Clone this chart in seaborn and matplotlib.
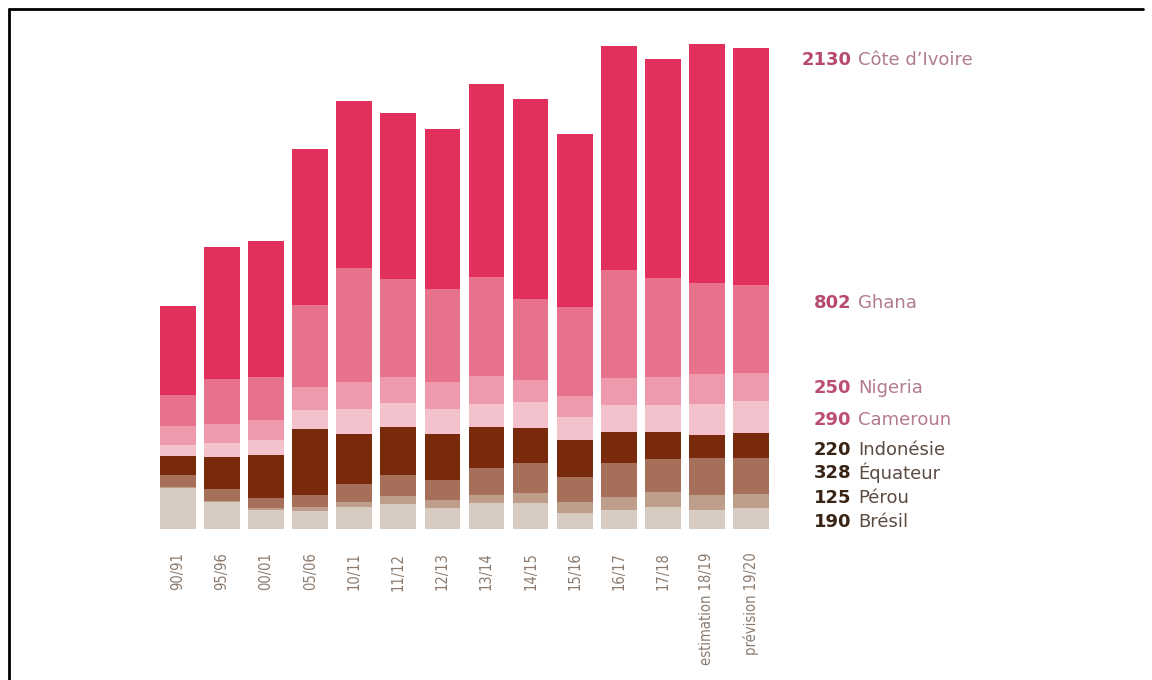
import numpy as np
import pandas as pd
import matplotlib
matplotlib.use("Agg")
import matplotlib.pyplot as plt
from matplotlib.lines import Line2D
import seaborn as sns

# ---------------- data ----------------
seasons = ['90/91', '95/96', '00/01', '05/06', '10/11', '11/12', '12/13', '13/14',
           '14/15', '15/16', '16/17', '17/18', 'estimation 18/19', 'prévision 19/20']
civ       = [800, 1190, 1220, 1407, 1506, 1497, 1440, 1734, 1806, 1561, 2016, 1971, 2151, 2130]
ghana     = [285,  405,  390,  744, 1030,  879,  840,  897,  729,  801,  975,  895,  825,  802]
nigeria   = [165,  165,  180,  210,  240,  240,  240,  248,  195,  189,  249,  255,  264,  250]
cameroun  = [105,  135,  135,  165,  225,  210,  225,  211,  240,  210,  240,  240,  285,  290]
indonesie = [165,  285,  390,  600,  450,  435,  420,  374,  315,  330,  284,  240,  210,  220]
equateur  = [110,  105,   90,  105,  165,  190,  180,  240,  270,  225,  300,  300,  330,  328]
perou     = [ 10,   10,   20,   40,   45,   72,   75,   75,   85,  105,  120,  135,  135,  125]
bresil    = [370,  245,  170,  160,  200,  225,  186,  231,  237,  141,  171,  200,  171,  190]

countries = ["Côte d’Ivoire", "Ghana", "Nigeria", "Cameroun",
             "Indonésie", "Équateur", "Pérou", "Brésil"]
series = [civ, ghana, nigeria, cameroun, indonesie, equateur, perou, bresil]
label_values = ["2130", "802", "250", "290", "220", "328", "125", "190"]

# ---------------- styling ----------------
seg_colors = ["#E0305B", "#E8718C", "#EE9AAC", "#F4C2CD",
              "#7A2A0C", "#A56F5A", "#BE9D8B", "#D8CBC1"]
num_colors = ["#B5496F", "#B5496F", "#BC4E76", "#BC4E76",
              "#3A2416", "#3A2416", "#3A2416", "#3A2416"]
name_colors = ["#B07B8E", "#B07B8E", "#B57A90", "#B57A90",
               "#5A4A42", "#5A4A42", "#5A4A42", "#5A4A42"]
label_y = [4230, 2041, 1272, 983, 713, 505, 280, 66]   # layout positions of the side labels

sns.set_style("white")
plt.rcParams['font.family'] = ['DejaVu Sans']

fig = plt.figure(figsize=(11.52, 6.8), dpi=100)
ax = fig.add_axes([0.1353, 0.2221, 0.5358, 0.7173])

# stacked bars: bottom-up order Brésil ... Côte d'Ivoire
df = pd.DataFrame({c: s for c, s in zip(countries, series)}, index=seasons)
stack_order = countries[::-1]            # bottom to top
cum = df[stack_order].cumsum(axis=1)

# draw from the tallest cumulative (top segment) down to the smallest
for country in countries:
    idx = countries.index(country)
    sns.barplot(x=seasons, y=cum[country].values, order=seasons,
                color=seg_colors[idx], saturation=1, width=0.81,
                ax=ax, linewidth=0, zorder=2)

ax.set_xlim(-0.5, 13.5)
ax.set_ylim(0, 4400)
for sp in ax.spines.values():
    sp.set_visible(False)
ax.set_yticks([])
ax.set_xlabel("")
ax.set_ylabel("")
ax.tick_params(axis='x', length=0, pad=17)
ax.set_xticks(range(len(seasons)))
ax.set_xticklabels(seasons, rotation=90, fontsize=10.5, color="#8C7B6E",
                   fontstretch='condensed', va='top', ha='center')

# side labels
x_num = 15.27
for i, country in enumerate(countries):
    ax.text(x_num, label_y[i], label_values[i], ha='right', va='center',
            fontsize=13, fontweight='bold', color=num_colors[i], clip_on=False)
    ax.annotate(country, xy=(x_num, label_y[i]), xytext=(5, 0),
                textcoords='offset points', ha='left', va='center',
                fontsize=13, color=name_colors[i], annotation_clip=False)

# frame lines
fig.add_artist(Line2D([0.0074, 0.0074], [0.0, 0.9875], transform=fig.transFigure,
                      color='black', linewidth=2))
fig.add_artist(Line2D([0.0074, 0.9925], [0.9875, 0.9875], transform=fig.transFigure,
                      color='black', linewidth=2))

fig.savefig("out.png", dpi=100, facecolor="white")
